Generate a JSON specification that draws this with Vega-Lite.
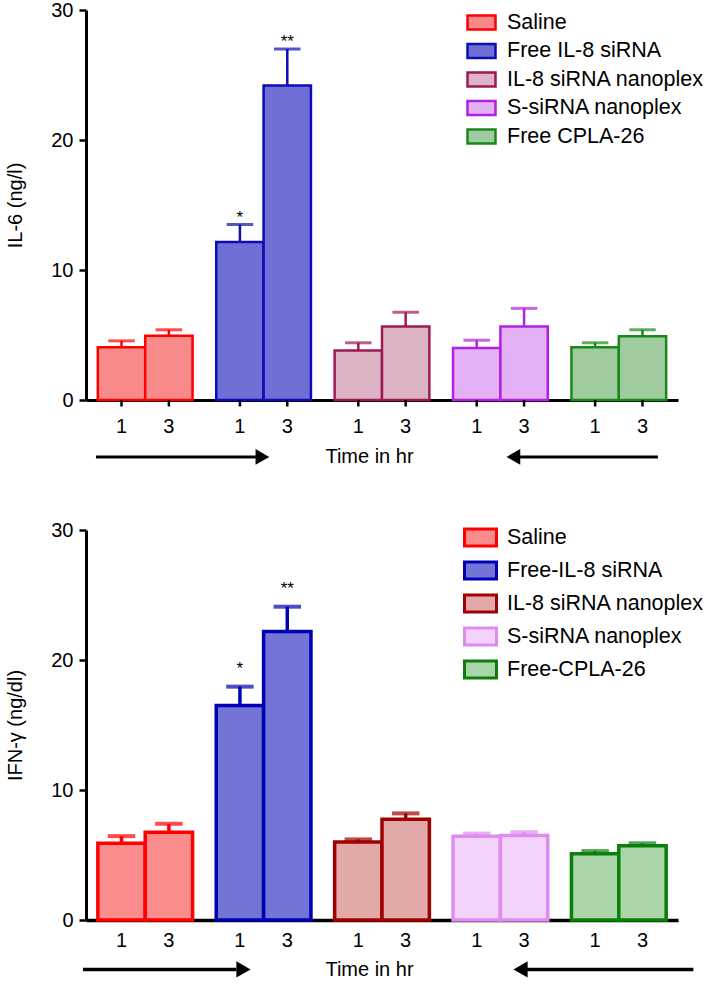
{
  "$schema": "https://vega.github.io/schema/vega-lite/v6.json",
  "padding": {"left": 5, "top": 0, "right": 0, "bottom": 0},
  "bounds": "flush",
  "spacing": 130,
  "config": {
    "font": "Liberation Sans",
    "view": {"stroke": null},
    "axis": {"domainColor": "black", "tickColor": "black", "labelColor": "black", "titleColor": "black", "grid": false, "zindex": 1, "labelFont": "Liberation Sans", "titleFont": "Liberation Sans"},
    "legend": {"labelFont": "Liberation Sans", "labelColor": "black", "labelLimit": 400},
    "text": {"font": "Liberation Sans", "color": "black"}
  },
  "datasets": {
    "il6": [
      {"group": "Saline", "time": "1", "value": 4.05, "upper": 4.55, "sig": ""},
      {"group": "Saline", "time": "3", "value": 4.95, "upper": 5.4, "sig": ""},
      {"group": "Free IL-8 siRNA", "time": "1", "value": 12.15, "upper": 13.5, "sig": "*"},
      {"group": "Free IL-8 siRNA", "time": "3", "value": 24.2, "upper": 27.0, "sig": "**"},
      {"group": "IL-8 siRNA nanoplex", "time": "1", "value": 3.8, "upper": 4.4, "sig": ""},
      {"group": "IL-8 siRNA nanoplex", "time": "3", "value": 5.65, "upper": 6.75, "sig": ""},
      {"group": "S-siRNA nanoplex", "time": "1", "value": 4.0, "upper": 4.6, "sig": ""},
      {"group": "S-siRNA nanoplex", "time": "3", "value": 5.65, "upper": 7.05, "sig": ""},
      {"group": "Free CPLA-26", "time": "1", "value": 4.05, "upper": 4.4, "sig": ""},
      {"group": "Free CPLA-26", "time": "3", "value": 4.9, "upper": 5.4, "sig": ""}
    ],
    "ifn": [
      {"group": "Saline", "time": "1", "value": 5.9, "upper": 6.45, "sig": ""},
      {"group": "Saline", "time": "3", "value": 6.75, "upper": 7.4, "sig": ""},
      {"group": "Free-IL-8 siRNA", "time": "1", "value": 16.5, "upper": 17.95, "sig": "*"},
      {"group": "Free-IL-8 siRNA", "time": "3", "value": 22.2, "upper": 24.1, "sig": "**"},
      {"group": "IL-8 siRNA nanoplex", "time": "1", "value": 6.0, "upper": 6.2, "sig": ""},
      {"group": "IL-8 siRNA nanoplex", "time": "3", "value": 7.75, "upper": 8.2, "sig": ""},
      {"group": "S-siRNA nanoplex", "time": "1", "value": 6.45, "upper": 6.65, "sig": ""},
      {"group": "S-siRNA nanoplex", "time": "3", "value": 6.5, "upper": 6.75, "sig": ""},
      {"group": "Free-CPLA-26", "time": "1", "value": 5.1, "upper": 5.3, "sig": ""},
      {"group": "Free-CPLA-26", "time": "3", "value": 5.72, "upper": 5.9, "sig": ""}
    ]
  },
  "resolve": {"scale": {"x": "independent", "y": "independent", "fill": "independent", "stroke": "independent", "xOffset": "independent"}},
  "vconcat": [
    {
      "width": 592,
      "height": 390,
      "data": {"name": "il6"},
      "resolve": {"scale": {"x": "independent"}},
      "layer": [
        {
          "encoding": {
            "x": {"field": "group", "type": "nominal", "sort": null, "scale": {"paddingInner": 0.2, "paddingOuter": 0.1},
                  "axis": {"labels": false, "ticks": false, "domainWidth": 3, "title": "Time in hr", "titleFontSize": 20, "titleFontWeight": "normal", "titlePadding": 46, "titleX": 283}},
            "xOffset": {"field": "time", "type": "nominal", "scale": {"paddingInner": 0}}
          },
          "layer": [
            {
              "mark": {"type": "bar", "strokeWidth": 2.5, "opacity": 1},
              "encoding": {
                "y": {"field": "value", "type": "quantitative", "scale": {"domain": [0, 30]},
                      "axis": {"values": [0, 10, 20, 30], "title": "IL-6 (ng/l)", "tickSize": 7, "tickWidth": 2.5, "domainWidth": 3, "labelFontSize": 20, "labelPadding": 6, "titleFontSize": 20, "titleFontWeight": "normal", "titlePadding": 25, "labelFlush": false}},
                "fill": {"field": "group", "type": "nominal",
                         "scale": {"domain": ["Saline", "Free IL-8 siRNA", "IL-8 siRNA nanoplex", "S-siRNA nanoplex", "Free CPLA-26"], "range": ["#f98a8a", "#6f6fd6", "#ddb3c6", "#e4b2f4", "#a0cba0"]},
                         "legend": {"orient": "none", "legendX": 380, "legendY": -3, "title": null, "symbolType": "M-1,-0.5H1V0.5H-1Z", "symbolSize": 784, "symbolStrokeWidth": 2.5, "symbolOpacity": 1, "labelFontSize": 21.5, "labelOffset": 10, "rowPadding": 0.5}},
                "stroke": {"field": "group", "type": "nominal",
                           "scale": {"domain": ["Saline", "Free IL-8 siRNA", "IL-8 siRNA nanoplex", "S-siRNA nanoplex", "Free CPLA-26"], "range": ["#ff0000", "#0c0cb8", "#9e1a55", "#b21fe6", "#178a17"]},
                           "legend": {"orient": "none", "legendX": 380, "legendY": -3, "title": null, "symbolType": "M-1,-0.5H1V0.5H-1Z", "symbolSize": 784, "symbolStrokeWidth": 2.5, "symbolOpacity": 1, "labelFontSize": 21.5, "labelOffset": 10, "rowPadding": 0.5}}
              }
            },
            {
              "mark": {"type": "rule", "strokeWidth": 2.5},
              "encoding": {
                "y": {"field": "value", "type": "quantitative", "scale": {"domain": [0, 30]}, "axis": {"title": "IL-6 (ng/l)"}},
                "y2": {"field": "upper"},
                "stroke": {"field": "group", "type": "nominal", "legend": null}
              }
            },
            {
              "mark": {"type": "tick", "filled": false, "thickness": 0.5, "strokeWidth": 2.5, "size": 24},
              "encoding": {
                "y": {"field": "upper", "type": "quantitative", "scale": {"domain": [0, 30]}, "axis": {"title": "IL-6 (ng/l)"}},
                "stroke": {"field": "group", "type": "nominal", "legend": null}
              }
            },
            {
              "mark": {"type": "text", "fontSize": 17, "baseline": "bottom", "dy": 2},
              "encoding": {
                "y": {"field": "upper", "type": "quantitative", "scale": {"domain": [0, 30]}, "axis": {"title": "IL-6 (ng/l)"}},
                "text": {"field": "sig"}
              }
            },
            {
              "mark": {"type": "rule", "strokeWidth": 2.5, "color": "black"},
              "encoding": {
                "y": {"datum": 0, "type": "quantitative", "scale": {"domain": [0, 30]}, "axis": {"title": "IL-6 (ng/l)"}},
                "y2": {"datum": -0.5}
              }
            },
            {
              "mark": {"type": "text", "fontSize": 20, "baseline": "middle"},
              "encoding": {
                "y": {"datum": -2.1, "type": "quantitative", "scale": {"domain": [0, 30]}, "axis": {"title": "IL-6 (ng/l)"}},
                "text": {"field": "time"}
              }
            }
          ]
        },
        {
          "data": {"values": [{}]},
          "layer": [
            {
              "mark": {"type": "rule", "strokeWidth": 3, "color": "black"},
              "encoding": {
                "x": {"datum": 0.084, "type": "quantitative", "scale": {"domain": [0, 5]}, "axis": null},
                "x2": {"datum": 1.44},
                "y": {"datum": -4.38, "type": "quantitative", "scale": {"domain": [0, 30]}, "axis": {"title": "IL-6 (ng/l)"}}
              }
            },
            {
              "mark": {"type": "point", "shape": "triangle-right", "filled": true, "color": "black", "size": 250, "opacity": 1},
              "encoding": {
                "x": {"datum": 1.49, "type": "quantitative", "scale": {"domain": [0, 5]}, "axis": null},
                "y": {"datum": -4.38, "type": "quantitative", "scale": {"domain": [0, 30]}, "axis": {"title": "IL-6 (ng/l)"}}
              }
            },
            {
              "mark": {"type": "rule", "strokeWidth": 3, "color": "black"},
              "encoding": {
                "x": {"datum": 3.66, "type": "quantitative", "scale": {"domain": [0, 5]}, "axis": null},
                "x2": {"datum": 4.83},
                "y": {"datum": -4.38, "type": "quantitative", "scale": {"domain": [0, 30]}, "axis": {"title": "IL-6 (ng/l)"}}
              }
            },
            {
              "mark": {"type": "point", "shape": "triangle-left", "filled": true, "color": "black", "size": 250, "opacity": 1},
              "encoding": {
                "x": {"datum": 3.61, "type": "quantitative", "scale": {"domain": [0, 5]}, "axis": null},
                "y": {"datum": -4.38, "type": "quantitative", "scale": {"domain": [0, 30]}, "axis": {"title": "IL-6 (ng/l)"}}
              }
            }
          ]
        }
      ]
    },
    {
      "width": 592,
      "height": 390,
      "data": {"name": "ifn"},
      "resolve": {"scale": {"x": "independent"}},
      "layer": [
        {
          "encoding": {
            "x": {"field": "group", "type": "nominal", "sort": null, "scale": {"paddingInner": 0.2, "paddingOuter": 0.1},
                  "axis": {"labels": false, "ticks": false, "domainWidth": 3.5, "title": "Time in hr", "titleFontSize": 20, "titleFontWeight": "normal", "titlePadding": 39, "titleX": 283}},
            "xOffset": {"field": "time", "type": "nominal", "scale": {"paddingInner": 0}}
          },
          "layer": [
            {
              "mark": {"type": "bar", "strokeWidth": 3.5, "opacity": 1},
              "encoding": {
                "y": {"field": "value", "type": "quantitative", "scale": {"domain": [0, 30]},
                      "axis": {"values": [0, 10, 20, 30], "title": "IFN-γ (ng/dl)", "tickSize": 7, "tickWidth": 2.5, "domainWidth": 3, "labelFontSize": 20, "labelPadding": 6, "titleFontSize": 20, "titleFontWeight": "normal", "titlePadding": 25, "labelFlush": false}},
                "fill": {"field": "group", "type": "nominal",
                         "scale": {"domain": ["Saline", "Free-IL-8 siRNA", "IL-8 siRNA nanoplex", "S-siRNA nanoplex", "Free-CPLA-26"], "range": ["#fa8c8c", "#7474d6", "#e2a9a9", "#f3d3fa", "#a9d5a9"]},
                         "legend": {"orient": "none", "legendX": 377, "legendY": -10, "title": null, "symbolType": "M-1,-0.53H1V0.53H-1Z", "symbolSize": 1024, "symbolStrokeWidth": 3, "symbolOpacity": 1, "labelFontSize": 21.5, "labelOffset": 9, "rowPadding": 1}},
                "stroke": {"field": "group", "type": "nominal",
                           "scale": {"domain": ["Saline", "Free-IL-8 siRNA", "IL-8 siRNA nanoplex", "S-siRNA nanoplex", "Free-CPLA-26"], "range": ["#ff0000", "#0000b4", "#a00000", "#de8cf2", "#0a7f0a"]},
                           "legend": {"orient": "none", "legendX": 377, "legendY": -10, "title": null, "symbolType": "M-1,-0.53H1V0.53H-1Z", "symbolSize": 1024, "symbolStrokeWidth": 3, "symbolOpacity": 1, "labelFontSize": 21.5, "labelOffset": 9, "rowPadding": 1}}
              }
            },
            {
              "mark": {"type": "rule", "strokeWidth": 3.5},
              "encoding": {
                "y": {"field": "value", "type": "quantitative", "scale": {"domain": [0, 30]}, "axis": {"title": "IFN-γ (ng/dl)"}},
                "y2": {"field": "upper"},
                "stroke": {"field": "group", "type": "nominal", "legend": null}
              }
            },
            {
              "mark": {"type": "tick", "filled": false, "thickness": 0.5, "strokeWidth": 3.5, "size": 24},
              "encoding": {
                "y": {"field": "upper", "type": "quantitative", "scale": {"domain": [0, 30]}, "axis": {"title": "IFN-γ (ng/dl)"}},
                "stroke": {"field": "group", "type": "nominal", "legend": null}
              }
            },
            {
              "mark": {"type": "text", "fontSize": 17, "baseline": "bottom", "dy": -9},
              "encoding": {
                "y": {"field": "upper", "type": "quantitative", "scale": {"domain": [0, 30]}, "axis": {"title": "IFN-γ (ng/dl)"}},
                "text": {"field": "sig"}
              }
            },
            {
              "mark": {"type": "text", "fontSize": 20, "baseline": "middle"},
              "encoding": {
                "y": {"datum": -1.65, "type": "quantitative", "scale": {"domain": [0, 30]}, "axis": {"title": "IFN-γ (ng/dl)"}},
                "text": {"field": "time"}
              }
            }
          ]
        },
        {
          "data": {"values": [{}]},
          "layer": [
            {
              "mark": {"type": "rule", "strokeWidth": 3.5, "color": "black"},
              "encoding": {
                "x": {"datum": -0.025, "type": "quantitative", "scale": {"domain": [0, 5]}, "axis": null},
                "x2": {"datum": 1.27},
                "y": {"datum": -3.8, "type": "quantitative", "scale": {"domain": [0, 30]}, "axis": {"title": "IFN-γ (ng/dl)"}}
              }
            },
            {
              "mark": {"type": "point", "shape": "triangle-right", "filled": true, "color": "black", "size": 270, "opacity": 1},
              "encoding": {
                "x": {"datum": 1.33, "type": "quantitative", "scale": {"domain": [0, 5]}, "axis": null},
                "y": {"datum": -3.8, "type": "quantitative", "scale": {"domain": [0, 30]}, "axis": {"title": "IFN-γ (ng/dl)"}}
              }
            },
            {
              "mark": {"type": "rule", "strokeWidth": 3.5, "color": "black"},
              "encoding": {
                "x": {"datum": 3.72, "type": "quantitative", "scale": {"domain": [0, 5]}, "axis": null},
                "x2": {"datum": 5.13},
                "y": {"datum": -3.8, "type": "quantitative", "scale": {"domain": [0, 30]}, "axis": {"title": "IFN-γ (ng/dl)"}}
              }
            },
            {
              "mark": {"type": "point", "shape": "triangle-left", "filled": true, "color": "black", "size": 270, "opacity": 1},
              "encoding": {
                "x": {"datum": 3.67, "type": "quantitative", "scale": {"domain": [0, 5]}, "axis": null},
                "y": {"datum": -3.8, "type": "quantitative", "scale": {"domain": [0, 30]}, "axis": {"title": "IFN-γ (ng/dl)"}}
              }
            }
          ]
        }
      ]
    }
  ]
}
